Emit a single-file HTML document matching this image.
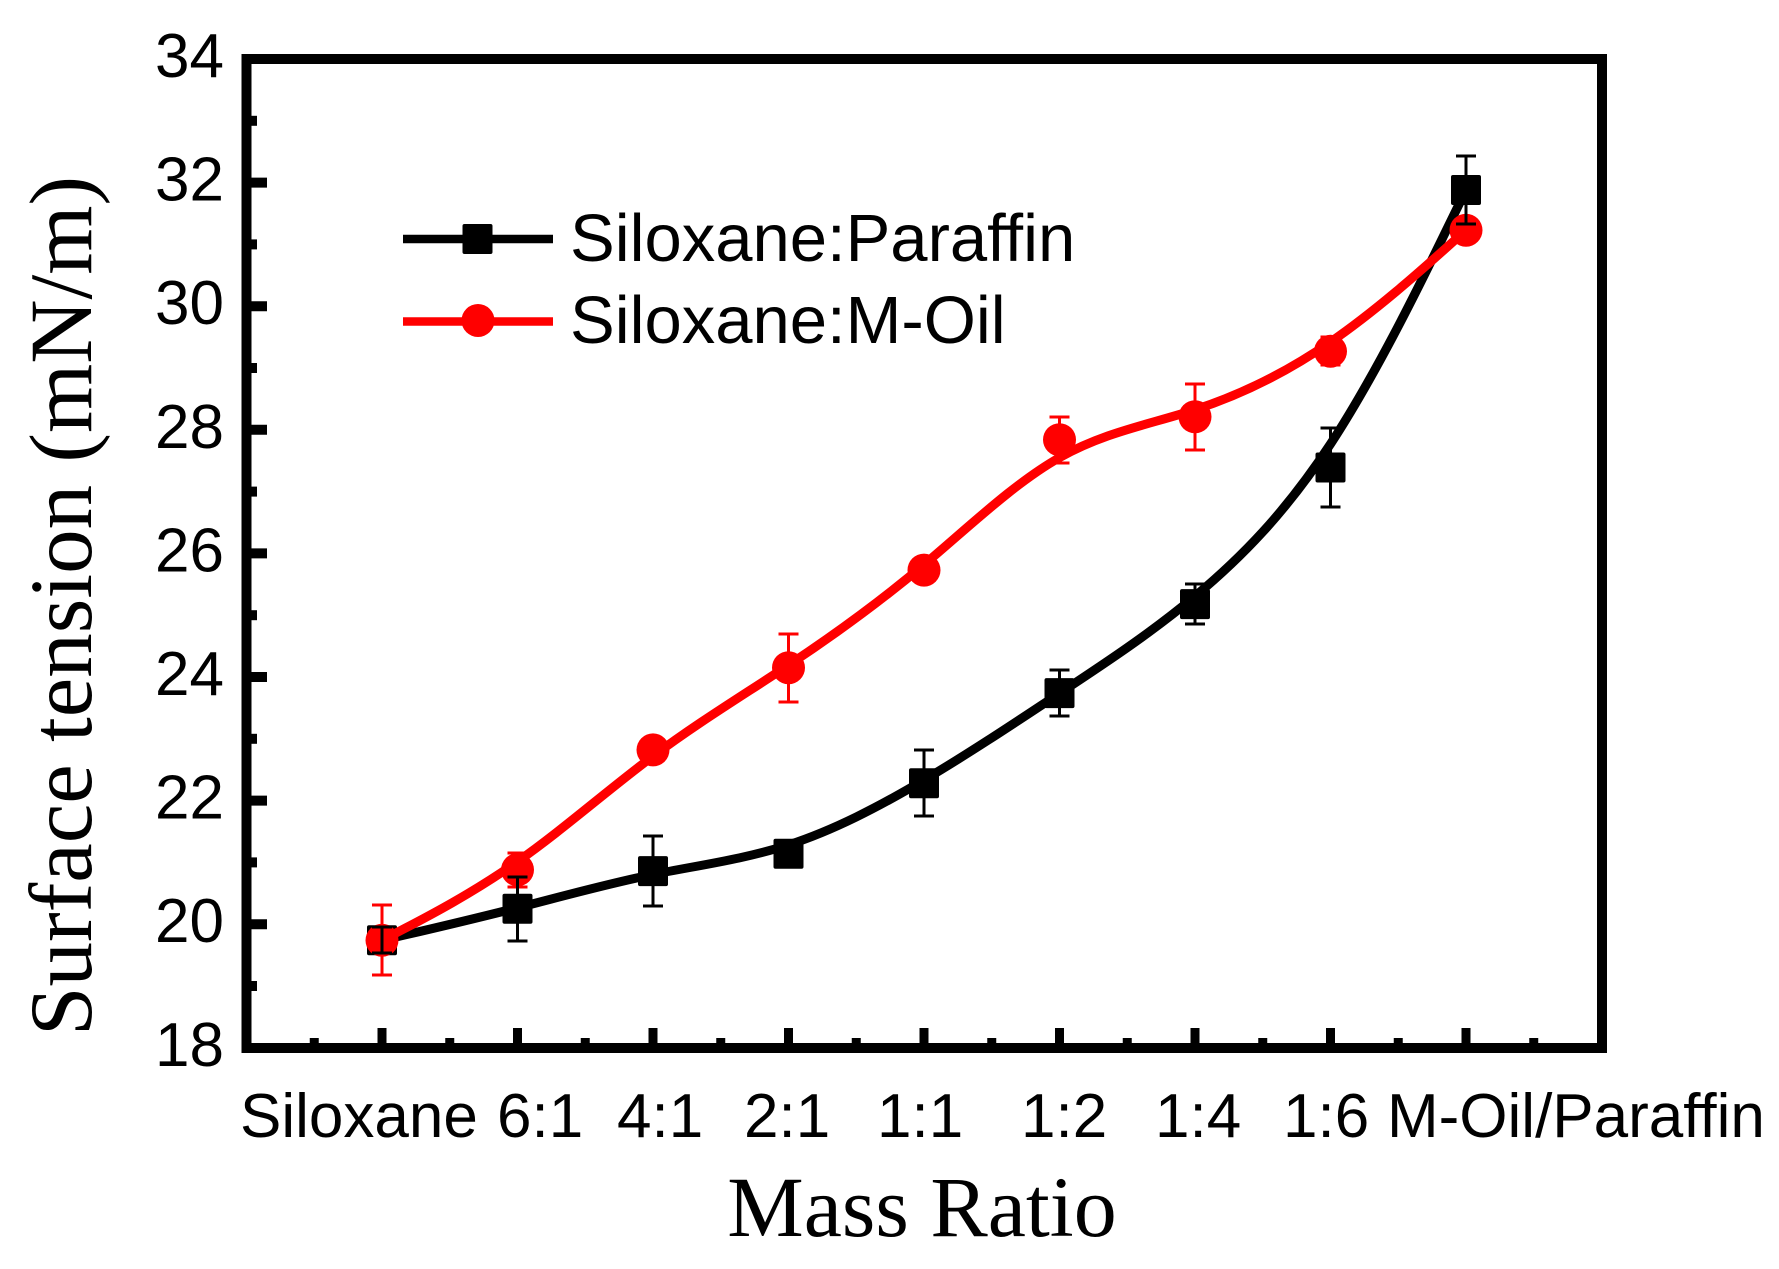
<!DOCTYPE html>
<html>
<head>
<meta charset="utf-8">
<style>
  html, body { margin:0; padding:0; background:#fff; }
  svg { display:block; }
  .tick { font-family:"Liberation Sans", Arial, sans-serif; font-size:62px; fill:#000; }
  .leg { font-family:"Liberation Sans", Arial, sans-serif; font-size:67px; fill:#000; }
  .title { font-family:"Liberation Serif", "Times New Roman", serif; fill:#000; }
</style>
</head>
<body>
<svg width="1779" height="1269" viewBox="0 0 1779 1269" xmlns="http://www.w3.org/2000/svg">
  <rect x="0" y="0" width="1779" height="1269" fill="#fff"/>

  <!-- Y ticks -->
  <g stroke="#000" stroke-width="10" fill="none">
    <line x1="246.5" y1="182.6" x2="267" y2="182.6"/>
    <line x1="246.5" y1="306.2" x2="267" y2="306.2"/>
    <line x1="246.5" y1="429.8" x2="267" y2="429.8"/>
    <line x1="246.5" y1="553.4" x2="267" y2="553.4"/>
    <line x1="246.5" y1="677" x2="267" y2="677"/>
    <line x1="246.5" y1="800.6" x2="267" y2="800.6"/>
    <line x1="246.5" y1="924.2" x2="267" y2="924.2"/>
    <line x1="246.5" y1="120.8" x2="257" y2="120.8"/>
    <line x1="246.5" y1="244.4" x2="257" y2="244.4"/>
    <line x1="246.5" y1="368" x2="257" y2="368"/>
    <line x1="246.5" y1="491.6" x2="257" y2="491.6"/>
    <line x1="246.5" y1="615.2" x2="257" y2="615.2"/>
    <line x1="246.5" y1="738.8" x2="257" y2="738.8"/>
    <line x1="246.5" y1="862.4" x2="257" y2="862.4"/>
    <line x1="246.5" y1="986" x2="257" y2="986"/>
  </g>
  <!-- X ticks -->
  <g stroke="#000" stroke-width="9" fill="none">
    <line x1="382" y1="1048" x2="382" y2="1028"/>
    <line x1="517.5" y1="1048" x2="517.5" y2="1028"/>
    <line x1="653" y1="1048" x2="653" y2="1028"/>
    <line x1="788.5" y1="1048" x2="788.5" y2="1028"/>
    <line x1="924" y1="1048" x2="924" y2="1028"/>
    <line x1="1059.5" y1="1048" x2="1059.5" y2="1028"/>
    <line x1="1195" y1="1048" x2="1195" y2="1028"/>
    <line x1="1330.5" y1="1048" x2="1330.5" y2="1028"/>
    <line x1="1466" y1="1048" x2="1466" y2="1028"/>
    <line x1="314.25" y1="1048" x2="314.25" y2="1038"/>
    <line x1="449.75" y1="1048" x2="449.75" y2="1038"/>
    <line x1="585.25" y1="1048" x2="585.25" y2="1038"/>
    <line x1="720.75" y1="1048" x2="720.75" y2="1038"/>
    <line x1="856.25" y1="1048" x2="856.25" y2="1038"/>
    <line x1="991.75" y1="1048" x2="991.75" y2="1038"/>
    <line x1="1127.25" y1="1048" x2="1127.25" y2="1038"/>
    <line x1="1262.75" y1="1048" x2="1262.75" y2="1038"/>
    <line x1="1398.25" y1="1048" x2="1398.25" y2="1038"/>
    <line x1="1533.75" y1="1048" x2="1533.75" y2="1038"/>
  </g>

  <!-- Frame -->
  <rect x="246.5" y="59" width="1355.5" height="989" fill="none" stroke="#000" stroke-width="10"/>

  <!-- Y tick labels -->
  <g class="tick" text-anchor="end">
    <text x="224" y="77">34</text>
    <text x="224" y="200.6">32</text>
    <text x="224" y="324.2">30</text>
    <text x="224" y="447.8">28</text>
    <text x="224" y="571.4">26</text>
    <text x="224" y="695">24</text>
    <text x="224" y="818.6">22</text>
    <text x="224" y="942.2">20</text>
    <text x="224" y="1066">18</text>
  </g>

  <!-- X tick labels -->
  <g class="tick">
    <text x="240" y="1137">Siloxane</text>
    <text x="497" y="1137">6:1</text>
    <text x="617" y="1137">4:1</text>
    <text x="744" y="1137">2:1</text>
    <text x="877" y="1137">1:1</text>
    <text x="1021" y="1137">1:2</text>
    <text x="1155" y="1137">1:4</text>
    <text x="1283" y="1137">1:6</text>
    <text x="1387" y="1137">M-Oil/Paraffin</text>
  </g>

  <!-- Axis titles -->
  <text class="title" x="922" y="1236" font-size="86" text-anchor="middle">Mass Ratio</text>
  <text class="title" font-size="89" text-anchor="middle" transform="translate(91,606) rotate(-90)">Surface tension (mN/m)</text>

  <!-- Black series line -->
  <path d="M382,940.3 L404.58,935.05 C427.17,929.8 472.33,919.3 517.5,907.77 C562.67,896.23 607.83,883.67 653,874.48 C698.17,865.3 743.33,859.5 788.5,844.87 C833.67,830.23 878.83,806.77 924,780 C969.17,753.23 1014.33,723.17 1059.5,693.3 C1104.67,663.43 1149.83,633.77 1195,596.17 C1240.17,558.57 1285.33,513.03 1330.5,444.02 C1375.67,375 1420.83,282.5 1443.42,236.25 L1466,190" fill="none" stroke="#000" stroke-width="9" stroke-linejoin="round" stroke-linecap="round"/>
  <!-- Black squares -->
  <g fill="#000">
    <rect x="367" y="925.3" width="30" height="30" rx="2"/>
    <rect x="502.5" y="893.8" width="30" height="30" rx="2"/>
    <rect x="638" y="856.1" width="30" height="30" rx="2"/>
    <rect x="773.5" y="838.7" width="30" height="30" rx="2"/>
    <rect x="909" y="768.3" width="30" height="30" rx="2"/>
    <rect x="1044.5" y="678.1" width="30" height="30" rx="2"/>
    <rect x="1180" y="589.1" width="30" height="30" rx="2"/>
    <rect x="1315.5" y="452.5" width="30" height="30" rx="2"/>
    <rect x="1451" y="175" width="30" height="30" rx="2"/>
  </g>

  <!-- Red series line -->
  <path d="M382,940.3 L404.58,928.55 C427.17,916.8 472.33,893.3 517.5,861.57 C562.67,829.83 607.83,789.87 653,756.18 C698.17,722.5 743.33,695.1 788.5,665.13 C833.67,635.17 878.83,602.63 924,564.63 C969.17,526.63 1014.33,483.17 1059.5,457.62 C1104.67,432.07 1149.83,424.43 1195,409.7 C1240.17,394.97 1285.33,373.13 1330.5,342.03 C1375.67,310.93 1420.83,270.57 1443.42,250.38 L1466,230.2" fill="none" stroke="#ff0000" stroke-width="9" stroke-linejoin="round" stroke-linecap="round"/>
  <!-- Red circles -->
  <g fill="#ff0000">
    <circle cx="382" cy="940.3" r="16.5"/>
    <circle cx="517.5" cy="869.8" r="16.5"/>
    <circle cx="653" cy="749.9" r="16.5"/>
    <circle cx="788.5" cy="667.7" r="16.5"/>
    <circle cx="924" cy="570.1" r="16.5"/>
    <circle cx="1059.5" cy="439.7" r="16.5"/>
    <circle cx="1195" cy="416.8" r="16.5"/>
    <circle cx="1330.5" cy="351.3" r="16.5"/>
    <circle cx="1466" cy="230.2" r="16.5"/>
  </g>

  <!-- Red error bars -->
  <g stroke="#ff0000" stroke-width="3" fill="none">
    <path d="M382,905 V975 M372,905 H392 M372,975 H392"/>
    <path d="M517.5,853 V887 M507.5,853 H527.5 M507.5,887 H527.5"/>
    <path d="M788.5,634 V702 M778.5,634 H798.5 M778.5,702 H798.5"/>
    <path d="M1059.5,417 V463 M1049.5,417 H1069.5 M1049.5,463 H1069.5"/>
    <path d="M1195,384 V450 M1185,384 H1205 M1185,450 H1205"/>
    <path d="M1330.5,337 V365 M1320.5,337 H1340.5 M1320.5,365 H1340.5"/>
  </g>

  <!-- Black error bars -->
  <g stroke="#000" stroke-width="3" fill="none">
    <path d="M382,927 V953 M372,927 H392 M372,953 H392"/>
    <path d="M517.5,877 V941 M507.5,877 H527.5 M507.5,941 H527.5"/>
    <path d="M653,836 V906 M643,836 H663 M643,906 H663"/>
    <path d="M788.5,845 V863"/>
    <path d="M924,750 V816 M914,750 H934 M914,816 H934"/>
    <path d="M1059.5,670 V716 M1049.5,670 H1069.5 M1049.5,716 H1069.5"/>
    <path d="M1195,584 V624 M1185,584 H1205 M1185,624 H1205"/>
    <path d="M1330.5,428 V507 M1320.5,428 H1340.5 M1320.5,507 H1340.5"/>
    <path d="M1466,156 V224 M1456,156 H1476 M1456,224 H1476"/>
  </g>

  <!-- Legend -->
  <line x1="403" y1="239" x2="553" y2="239" stroke="#000" stroke-width="8.5"/>
  <rect x="462.5" y="224" width="30" height="30" rx="2" fill="#000"/>
  <text class="leg" x="570" y="261">Siloxane:Paraffin</text>

  <line x1="403" y1="321.5" x2="553" y2="321.5" stroke="#ff0000" stroke-width="8.5"/>
  <circle cx="478" cy="320.5" r="16.5" fill="#ff0000"/>
  <text class="leg" x="570" y="343">Siloxane:M-Oil</text>
</svg>
</body>
</html>
